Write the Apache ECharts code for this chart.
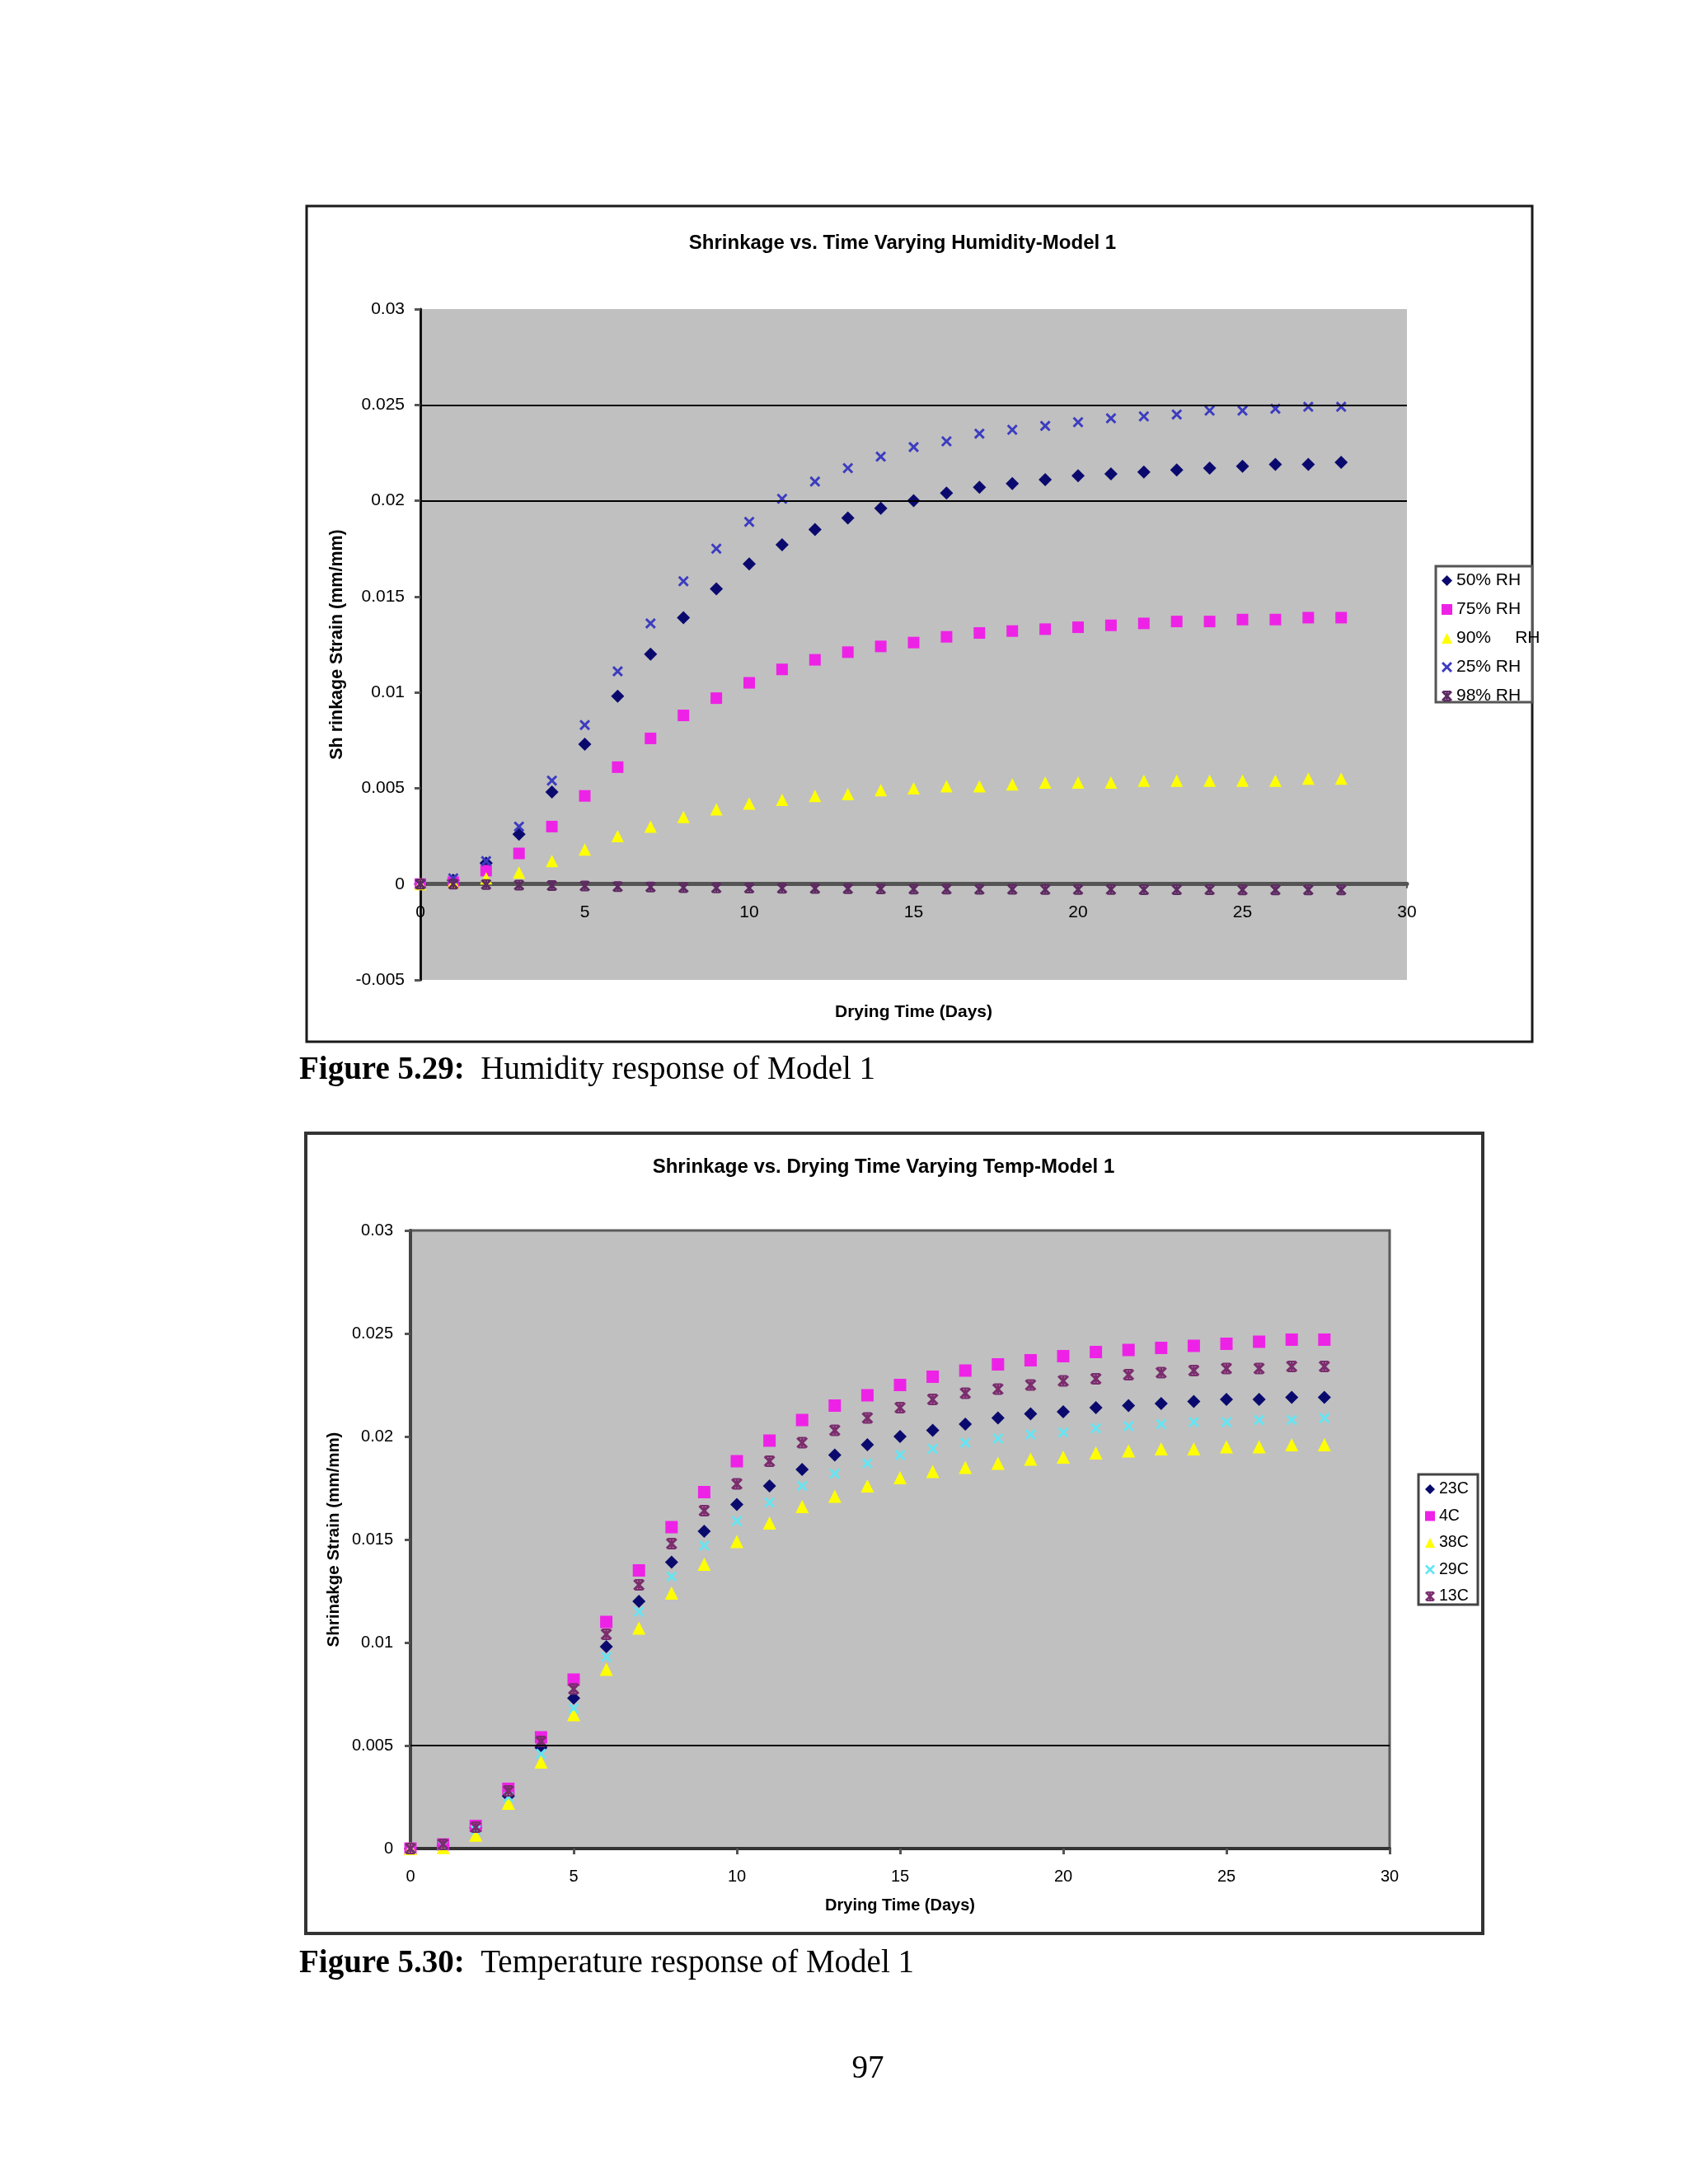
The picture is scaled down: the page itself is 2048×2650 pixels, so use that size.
<!DOCTYPE html>
<html>
<head>
<meta charset="utf-8">
<script src="https://cdn.jsdelivr.net/npm/echarts@6/dist/echarts.min.js"></script>
<style>
html,body{margin:0;padding:0;background:#fff;}
#c{width:2048px;height:2650px;}
</style>
</head>
<body>
<div id="c"></div>
<script>
// ---------- DATA ----------
var days = [0,1,2,3,4,5,6,7,8,9,10,11,12,13,14,15,16,17,18,19,20,21,22,23,24,25,26,27,28];

// Figure 5.29 – humidity
var rh50 = [0,0.0002,0.0011,0.0026,0.0048,0.0073,0.0098,0.0120,0.0139,0.0154,0.0167,0.0177,0.0185,0.0191,0.0196,0.0200,0.0204,0.0207,0.0209,0.0211,0.0213,0.0214,0.0215,0.0216,0.0217,0.0218,0.0219,0.0219,0.0220];
var rh75 = [0,0.0001,0.0007,0.0016,0.0030,0.0046,0.0061,0.0076,0.0088,0.0097,0.0105,0.0112,0.0117,0.0121,0.0124,0.0126,0.0129,0.0131,0.0132,0.0133,0.0134,0.0135,0.0136,0.0137,0.0137,0.0138,0.0138,0.0139,0.0139];
var rh90 = [0,0.0001,0.0003,0.0006,0.0012,0.0018,0.0025,0.0030,0.0035,0.0039,0.0042,0.0044,0.0046,0.0047,0.0049,0.0050,0.0051,0.0051,0.0052,0.0053,0.0053,0.0053,0.0054,0.0054,0.0054,0.0054,0.0054,0.0055,0.0055];
var rh25 = [0,0.0003,0.0012,0.0030,0.0054,0.0083,0.0111,0.0136,0.0158,0.0175,0.0189,0.0201,0.0210,0.0217,0.0223,0.0228,0.0231,0.0235,0.0237,0.0239,0.0241,0.0243,0.0244,0.0245,0.0247,0.0247,0.0248,0.0249,0.0249];
var rh98 = [0,0,-0.00002,-0.00005,-0.00008,-0.0001,-0.00013,-0.00015,-0.00018,-0.0002,-0.00021,-0.00022,-0.00023,-0.00024,-0.00025,-0.00026,-0.00026,-0.00027,-0.00027,-0.00028,-0.00028,-0.00028,-0.00029,-0.00029,-0.00029,-0.0003,-0.0003,-0.0003,-0.0003];
var humidityNames = ['50% RH','75% RH','90% RH','25% RH','98% RH'];
var humidityGridLines = [0.02, 0.025];
var humidityY = {min:-0.005, max:0.03, interval:0.005};

// Figure 5.30 – temperature
var t23 = [0,0.00016,0.0010,0.00255,0.0049,0.0073,0.0098,0.0120,0.0139,0.0154,0.0167,0.0176,0.0184,0.0191,0.0196,0.0200,0.0203,0.0206,0.0209,0.0211,0.0212,0.0214,0.0215,0.0216,0.0217,0.0218,0.0218,0.0219,0.0219];
var t4  = [0,0.0002,0.0011,0.0029,0.0054,0.0082,0.0110,0.0135,0.0156,0.0173,0.0188,0.0198,0.0208,0.0215,0.0220,0.0225,0.0229,0.0232,0.0235,0.0237,0.0239,0.0241,0.0242,0.0243,0.0244,0.0245,0.0246,0.0247,0.0247];
var t38 = [0,0.00005,0.00065,0.0022,0.0042,0.0065,0.0087,0.0107,0.0124,0.0138,0.0149,0.0158,0.0166,0.0171,0.0176,0.0180,0.0183,0.0185,0.0187,0.0189,0.0190,0.0192,0.0193,0.0194,0.0194,0.0195,0.0195,0.0196,0.0196];
var t29 = [0,0.00016,0.0009,0.0025,0.0046,0.0068,0.0093,0.0115,0.0132,0.0147,0.0159,0.0168,0.0176,0.0182,0.0187,0.0191,0.0194,0.0197,0.0199,0.0201,0.0202,0.0204,0.0205,0.0206,0.0207,0.0207,0.0208,0.0208,0.0209];
var t13 = [0,0.0002,0.00104,0.0028,0.0052,0.00775,0.0104,0.0128,0.0148,0.0164,0.0177,0.0188,0.0197,0.0203,0.0209,0.0214,0.0218,0.0221,0.0223,0.0225,0.0227,0.0228,0.0230,0.0231,0.0232,0.0233,0.0233,0.0234,0.0234];
var tempNames = ['23C','4C','38C','29C','13C'];
var tempGridLines = [0.005];
var tempY = {min:0, max:0.03, interval:0.005};

var xTicks = {min:0, max:30, interval:5};

// ---------- STYLE ----------
var SANS = '"Liberation Sans", Arial, sans-serif';
var SERIF = '"Liberation Serif", "Times New Roman", serif';
var X_PATH = 'path://M0,1.6 L1.6,0 L5,3.4 L8.4,0 L10,1.6 L6.6,5 L10,8.4 L8.4,10 L5,6.6 L1.6,10 L0,8.4 L3.4,5 Z';
var STAR_PATH = 'path://M0,1.6 L1.6,0 L5,3.4 L8.4,0 L10,1.6 L6.6,5 L10,8.4 L8.4,10 L5,6.6 L1.6,10 L0,8.4 L3.4,5 Z M4.1,0 L5.9,0 L5.9,10 L4.1,10 Z M2,0 L8,0 L8,1.5 L2,1.5 Z M2,8.5 L8,8.5 L8,10 L2,10 Z';

var GRID1 = {left:510, top:375, width:1197, height:814};
var GRID2 = {left:498, top:1493, width:1188, height:750};
// vertical offset that puts the humidity chart's x axis on the y = 0 line
var zeroOffset1 = -GRID1.height * (0 - humidityY.min) / (humidityY.max - humidityY.min);

function pairs(arr){ return days.map(function(d,i){ return [d, arr[i]]; }); }

function sc(name, arr, gi, symbol, size, color, extra){
  var s = {
    type:'scatter', name:name, xAxisIndex:gi, yAxisIndex:gi,
    data:pairs(arr), symbol:symbol, symbolSize:size,
    itemStyle:{color:color, opacity:1}, emphasis:{disabled:true}, silent:true
  };
  if (extra) for (var k in extra) s[k]=extra[k];
  return s;
}
function ml(vals){
  return { silent:true, symbol:'none', precision:6, label:{show:false}, animation:false,
    lineStyle:{color:'#000', width:2, type:'solid'},
    data: vals.map(function(v){ return {yAxis:v}; }) };
}

var chart = echarts.init(document.getElementById('c'), null, {renderer:'canvas', width:2048, height:2650});

var option = {
  animation:false,
  backgroundColor:'#fff',
  textStyle:{fontFamily:SANS},
  title:[
    {text:'Shrinkage vs. Time Varying Humidity-Model 1', left:1095, top:283, textAlign:'center', padding:0,
     textStyle:{fontFamily:SANS, fontSize:24, fontWeight:'bold', color:'#000'}},
    {text:'Shrinkage vs. Drying Time Varying Temp-Model 1', left:1072, top:1404, textAlign:'center', padding:0,
     textStyle:{fontFamily:SANS, fontSize:24, fontWeight:'bold', color:'#000'}}
  ],
  grid:[
    {left:GRID1.left, top:GRID1.top, width:GRID1.width, height:GRID1.height, show:true, backgroundColor:'#c0c0c0', borderWidth:0},
    {left:GRID2.left, top:GRID2.top, width:GRID2.width, height:GRID2.height, show:true, backgroundColor:'#c0c0c0', borderColor:'#5a5a5a', borderWidth:3}
  ],
  xAxis:[
    {type:'value', gridIndex:0, min:xTicks.min, max:xTicks.max, interval:xTicks.interval,
     position:'bottom', offset:zeroOffset1,
     name:'Drying Time (Days)', nameLocation:'middle', nameGap:145,
     nameTextStyle:{fontFamily:SANS, fontSize:21, fontWeight:'bold', color:'#000'},
     axisLine:{onZero:false, lineStyle:{color:'#555', width:5}},
     axisTick:{show:true, length:5, lineStyle:{color:'#555', width:2}},
     axisLabel:{fontFamily:SANS, fontSize:21, color:'#000', margin:24},
     splitLine:{show:false}},
    {type:'value', gridIndex:1, min:xTicks.min, max:xTicks.max, interval:xTicks.interval,
     name:'Drying Time (Days)', nameLocation:'middle', nameGap:59,
     nameTextStyle:{fontFamily:SANS, fontSize:20, fontWeight:'bold', color:'#000'},
     axisLine:{onZero:false, lineStyle:{color:'#333', width:4}},
     axisTick:{show:true, length:7, lineStyle:{color:'#555', width:3}},
     axisLabel:{fontFamily:SANS, fontSize:20, color:'#000', margin:24},
     splitLine:{show:false}}
  ],
  yAxis:[
    {type:'value', gridIndex:0, min:humidityY.min, max:humidityY.max, interval:humidityY.interval,
     name:'Sh rinkage Strain (mm/mm)', nameLocation:'middle', nameGap:89, nameRotate:90,
     nameTextStyle:{fontFamily:SANS, fontSize:21.5, fontWeight:'bold', color:'#000'},
     axisLine:{show:true, onZero:false, lineStyle:{color:'#111', width:3}},
     axisTick:{show:true, length:7, lineStyle:{color:'#555', width:3}},
     axisLabel:{fontFamily:SANS, fontSize:21, color:'#000', margin:19},
     splitLine:{show:false}},
    {type:'value', gridIndex:1, min:tempY.min, max:tempY.max, interval:tempY.interval,
     name:'Shrinakge Strain (mm/mm)', nameLocation:'middle', nameGap:81, nameRotate:90,
     nameTextStyle:{fontFamily:SANS, fontSize:20.5, fontWeight:'bold', color:'#000'},
     axisLine:{show:true, onZero:false, lineStyle:{color:'#444', width:4}},
     axisTick:{show:true, length:7, lineStyle:{color:'#555', width:3}},
     axisLabel:{fontFamily:SANS, fontSize:20, color:'#000', margin:21},
     splitLine:{show:false}}
  ],
  legend:[
    {orient:'vertical', left:1749, top:694, padding:0, itemGap:14, itemWidth:13, itemHeight:13,
     selectedMode:false, z:10,
     data:humidityNames,
     formatter:function(n){ return n==='90% RH' ? '90%     RH' : n; },
     textStyle:{fontFamily:SANS, fontSize:21, color:'#000'}},
    {orient:'vertical', left:1729, top:1797, padding:0, itemGap:12.5, itemWidth:12, itemHeight:12,
     selectedMode:false, z:10,
     data:tempNames,
     textStyle:{fontFamily:SANS, fontSize:19.5, color:'#000'}}
  ],
  series:[
    sc(humidityNames[0], rh50, 0, 'diamond', 16, '#0a0a6e', {markLine:ml(humidityGridLines)}),
    sc(humidityNames[1], rh75, 0, 'rect', 14, '#ee22e6'),
    sc(humidityNames[2], rh90, 0, 'triangle', 15, '#ffff00'),
    sc(humidityNames[3], rh25, 0, X_PATH, 13, '#3c3cc0'),
    sc(humidityNames[4], rh98, 0, STAR_PATH, 13, '#5e2a62'),
    sc(tempNames[0], t23, 1, 'diamond', 16, '#0a0a6e', {markLine:ml(tempGridLines)}),
    sc(tempNames[1], t4, 1, 'rect', 15, '#ee22e6'),
    sc(tempNames[2], t38, 1, 'triangle', 16, '#ffff00'),
    sc(tempNames[3], t29, 1, X_PATH, 13, '#66e4f2'),
    sc(tempNames[4], t13, 1, STAR_PATH, 14, '#7b2d6e')
  ],
  graphic:[
    {type:'rect', z:-1, shape:{x:372, y:250, width:1487, height:1014}, style:{fill:'#fff', stroke:'#1a1a1a', lineWidth:3}},
    {type:'rect', z:-1, shape:{x:371, y:1375, width:1428, height:971}, style:{fill:'#fff', stroke:'#333', lineWidth:4}},
    {type:'rect', z:1, shape:{x:1742, y:687, width:117, height:165}, style:{fill:'#fff', stroke:'#555', lineWidth:3}},
    {type:'rect', z:1, shape:{x:1721, y:1789, width:72, height:158}, style:{fill:'#fff', stroke:'#444', lineWidth:3}},
    {type:'text', z:5, x:363, y:1299, style:{
      text:'{b|Figure 5.29:}{n|  Humidity response of Model 1}', verticalAlign:'middle', align:'left',
      rich:{b:{fontFamily:SERIF, fontSize:39, fontWeight:'bold', fill:'#000'}, n:{fontFamily:SERIF, fontSize:39, fill:'#000'}}}},
    {type:'text', z:5, x:363, y:2383, style:{
      text:'{b|Figure 5.30:}{n|  Temperature response of Model 1}', verticalAlign:'middle', align:'left',
      rich:{b:{fontFamily:SERIF, fontSize:39, fontWeight:'bold', fill:'#000'}, n:{fontFamily:SERIF, fontSize:39, fill:'#000'}}}},
    {type:'text', z:5, x:1053, y:2511, style:{
      text:'97', align:'center', verticalAlign:'middle', fontFamily:SERIF, fontSize:39, fill:'#000'}}
  ]
};
chart.setOption(option);
</script>
</body>
</html>
